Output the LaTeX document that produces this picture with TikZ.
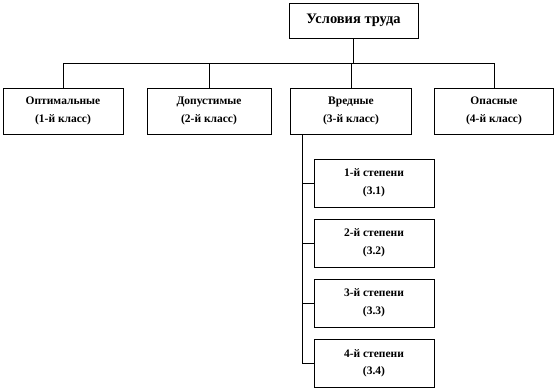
\documentclass[tikz,border=0pt]{standalone}
\usepackage{fontspec}
\setmainfont{Liberation Serif}
\begin{document}
\begin{tikzpicture}[x=1pt,y=-1pt,
  box/.style={draw, line width=0.8pt, align=center, font=\fontsize{11.5}{17.5}\selectfont\bfseries, inner sep=0pt},
  line/.style={line width=0.8pt}]
\useasboundingbox (0,0) rectangle (558,390);
\node[box, minimum width=129pt, minimum height=35pt, font=\fontsize{14.5}{16}\selectfont\bfseries] (t) at (353.5,20.5) {Условия труда};
\node[box, minimum width=120pt, minimum height=46pt] (b1) at (63,111) {Оптимальные\\(1-й класс)};
\node[box, minimum width=124pt, minimum height=46pt] (b2) at (209,111) {Допустимые\\(2-й класс)};
\node[box, minimum width=121pt, minimum height=46pt] (b3) at (351,111) {Вредные\\(3-й класс)};
\node[box, minimum width=119pt, minimum height=46pt] (b4) at (494,111) {Опасные\\(4-й класс)};
\node[box, minimum width=120pt, minimum height=48pt] (s1) at (374,183) {1-й степени\\(3.1)};
\node[box, minimum width=120pt, minimum height=48pt] (s2) at (374,243) {2-й степени\\(3.2)};
\node[box, minimum width=120pt, minimum height=48pt] (s3) at (374,303) {3-й степени\\(3.3)};
\node[box, minimum width=120pt, minimum height=48pt] (s4) at (374,363.5) {4-й степени\\(3.4)};
\coordinate (bus) at (0,63);
\coordinate (stem) at (302,0);
\draw[line] (t.south) -- (t.south |- bus);
\draw[line] (b1.north) -- (b1.north |- bus) -- (b4.north |- bus) -- (b4.north);
\draw[line] (b2.north) -- (b2.north |- bus);
\draw[line] (b3.north) -- (b3.north |- bus);
\draw[line] (b3.south -| stem) -- (s4.west -| stem) -- (s4.west);
\draw[line] (s1.west -| stem) -- (s1.west);
\draw[line] (s2.west -| stem) -- (s2.west);
\draw[line] (s3.west -| stem) -- (s3.west);
\end{tikzpicture}
\end{document}
